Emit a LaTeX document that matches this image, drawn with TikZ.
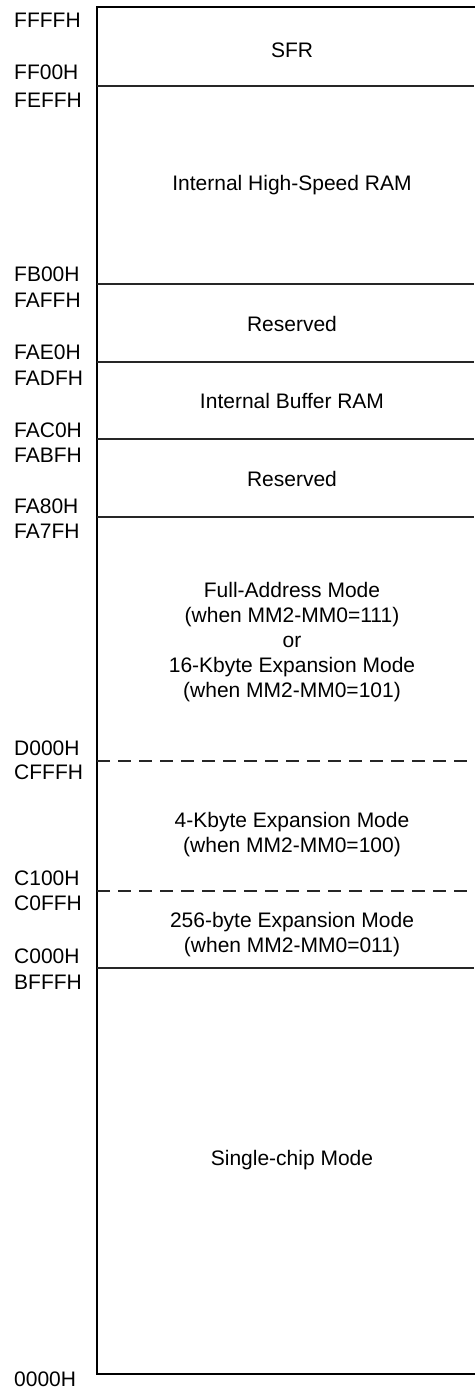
\documentclass[tikz,border=0pt]{standalone}
\usepackage{fontspec}
\setmainfont{Liberation Sans}
\begin{document}
\begin{tikzpicture}[x=1pt,y=-1pt,
  frame/.style={line width=2.6pt,line cap=rect},
  sep/.style={line width=1.2pt,black!85},
  dsep/.style={line width=1.2pt,black!85,dash pattern=on 13pt off 8pt},
  addr/.style={anchor=base west,inner sep=0pt,font=\fontsize{21}{25}\selectfont},
  region/.style={inner sep=0pt,align=center,font=\fontsize{21}{25}\selectfont}]
\useasboundingbox (0,0) rectangle (474,1389);
% frame
\coordinate (tr) at (474,7);
\coordinate (tl) at (97,7);
\coordinate (bl) at (97,1374);
\coordinate (br) at (474,1374);
\draw[frame] (tr) -- (tl) -- (bl) -- (br);
% separators
\foreach \n/\y in {a/86,b/284,c/362,d/439,e/517,h/968}{
  \coordinate (\n L) at (97,\y);
  \coordinate (\n R) at (474,\y);
  \draw[sep] (\n L) -- (\n R);
}
\foreach \n/\y in {f/761,g/891}{
  \coordinate (\n L) at (97,\y);
  \coordinate (\n R) at (474,\y);
  \draw[dsep] (\n L) -- (\n R);
}
% address labels
\node[addr] (l1) at (14,28) {FFFFH};
\node[addr] (l2) at (14,80) {FF00H};
\node[addr] (l3) at (14,107) {FEFFH};
\node[addr] (l4) at (14,281) {FB00H};
\node[addr] (l5) at (14,307) {FAFFH};
\node[addr] (l6) at (14,359) {FAE0H};
\node[addr] (l7) at (14,385) {FADFH};
\node[addr] (l8) at (14,437) {FAC0H};
\node[addr] (l9) at (14,462) {FABFH};
\node[addr] (l10) at (14,513) {FA80H};
\node[addr] (l11) at (14,538) {FA7FH};
\node[addr] (l12) at (14,755) {D000H};
\node[addr] (l13) at (14,779) {CFFFH};
\node[addr] (l14) at (14,885) {C100H};
\node[addr] (l15) at (14,910) {C0FFH};
\node[addr] (l16) at (14,963) {C000H};
\node[addr] (l17) at (14,989) {BFFFH};
\node[addr] (l18) at (14,1386) {0000H};
% region texts
\node[region,anchor=base] (sfr) at (292,58) {SFR};
\node[region,anchor=base] (hsram) at (292,190.5) {Internal High-Speed RAM};
\node[region,anchor=base] (res1) at (292,331) {Reserved};
\node[region,anchor=base] (buf) at (292,408) {Internal Buffer RAM};
\node[region,anchor=base] (res2) at (292,486) {Reserved};
\node[region,anchor=center] (full) at (292,642) {Full-Address Mode\\(when MM2-MM0=111)\\or\\16-Kbyte Expansion Mode\\(when MM2-MM0=101)};
\node[region,anchor=center] (k4) at (292,834.5) {4-Kbyte Expansion Mode\\(when MM2-MM0=100)};
\node[region,anchor=center] (b256) at (292,934.5) {256-byte Expansion Mode\\(when MM2-MM0=011)};
\node[region,anchor=base] (single) at (292,1165.5) {Single-chip Mode};
\end{tikzpicture}
\end{document}
